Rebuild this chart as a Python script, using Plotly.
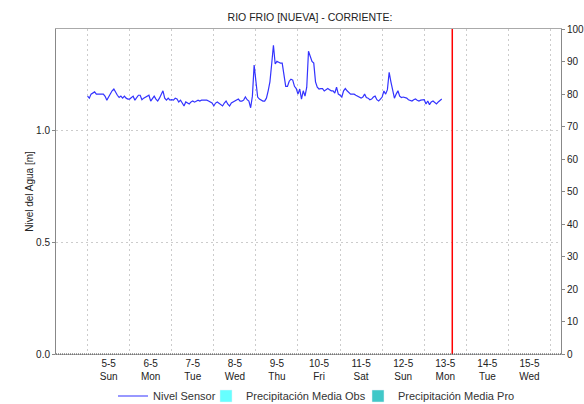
import pandas as pd
import plotly.graph_objects as go

# ---- data ----
start_time = "2024-05-05 00:00"
# hourly water level readings (m)
nivel = [
    1.156, 1.147, 1.165, 1.170, 1.175, 1.165, 1.165, 1.165, 1.165, 1.165, 1.155, 1.138,
    1.152, 1.170, 1.180, 1.188, 1.170, 1.160, 1.150, 1.156, 1.147, 1.156, 1.147, 1.143,
    1.143, 1.152, 1.156, 1.138, 1.147, 1.160, 1.160, 1.140, 1.147, 1.152, 1.156, 1.160,
    1.134, 1.147, 1.156, 1.143, 1.134, 1.147, 1.165, 1.180, 1.147, 1.138, 1.147, 1.138,
    1.140, 1.138, 1.147, 1.143, 1.130, 1.138, 1.125, 1.112, 1.130, 1.125, 1.121, 1.130,
    1.134, 1.129, 1.134, 1.138, 1.134, 1.138, 1.138, 1.138, 1.138, 1.134, 1.130, 1.125,
    1.112, 1.125, 1.130, 1.125, 1.116, 1.112, 1.125, 1.134, 1.120, 1.112, 1.125, 1.130,
    1.134, 1.138, 1.143, 1.134, 1.134, 1.138, 1.152, 1.140, 1.134, 1.104, 1.156, 1.295,
    1.220, 1.152, 1.143, 1.138, 1.134, 1.134, 1.147, 1.180, 1.220, 1.300, 1.384, 1.300,
    1.312, 1.308, 1.304, 1.304, 1.250, 1.200, 1.200, 1.223, 1.232, 1.228, 1.200, 1.190,
    1.165, 1.188, 1.143, 1.180, 1.156, 1.196, 1.357, 1.330, 1.312, 1.304, 1.220, 1.196,
    1.188, 1.190, 1.190, 1.179, 1.185, 1.190, 1.185, 1.180, 1.180, 1.170, 1.196, 1.165,
    1.160, 1.152, 1.180, 1.190, 1.180, 1.170, 1.165, 1.165, 1.165, 1.160, 1.156, 1.150,
    1.147, 1.152, 1.165, 1.150, 1.147, 1.140, 1.143, 1.152, 1.156, 1.140, 1.134, 1.143,
    1.152, 1.179, 1.165, 1.185, 1.263, 1.220, 1.180, 1.147, 1.165, 1.180, 1.156, 1.150,
    1.152, 1.150, 1.147, 1.140, 1.138, 1.134, 1.140, 1.143, 1.138, 1.134, 1.138, 1.140,
    1.140, 1.121, 1.134, 1.118, 1.130, 1.134, 1.125, 1.121, 1.130, 1.138, 1.143,
]
tiempos = pd.date_range(start_time, periods=len(nivel), freq="h")

precip_obs = [0] * 24
precip_pro = [0] * 24
precip_t = pd.date_range("2024-05-13 16:00", periods=24, freq="h")

dias = ["5-5", "6-5", "7-5", "8-5", "9-5", "10-5", "11-5", "12-5", "13-5", "14-5", "15-5"]
dias_sem = ["Sun", "Mon", "Tue", "Wed", "Thu", "Fri", "Sat", "Sun", "Mon", "Tue", "Wed"]
ahora = "2024-05-13 16:00"
x_rango = ["2024-05-04 06:00", "2024-05-16 06:00"]

#---- figure ----
fnt = "Liberation Sans, Arial, sans-serif"
W, H = 584, 404
noon = pd.date_range("2024-05-05 12:00", periods=len(dias), freq="D")
midnights = pd.date_range("2024-05-05 00:00", periods=len(dias) + 1, freq="D")
grid_c = "#cccccc"

fig = go.Figure()
fig.add_trace(go.Scatter(x=tiempos, y=nivel, mode="lines", name="Nivel Sensor",
                         line=dict(color="#3333ff", width=1.2), legend="legend"))
fig.add_trace(go.Bar(x=precip_t, y=precip_obs, name="Precipitación Media Obs",
                     marker_color="#66ffff", yaxis="y2", legend="legend2"))
fig.add_trace(go.Bar(x=precip_t, y=precip_pro, name="Precipitación Media Pro",
                     marker_color="#40c8c8", yaxis="y2", legend="legend3"))

fig.add_shape(type="line", xref="x", yref="paper", x0=ahora, x1=ahora, y0=0, y1=1,
              line=dict(color="#ff0000", width=1.5))
fig.add_shape(type="line", xref="paper", yref="paper", x0=0, x1=1, y0=0, y1=0,
              line=dict(color="#444444", width=1, dash="1px,1px"))

# one legend per entry so the items can sit close together like the original
def leg(px):
    return dict(orientation="h", xref="container", x=px / W, xanchor="left",
                yref="container", y=8 / H, yanchor="middle", bgcolor="rgba(0,0,0,0)",
                font=dict(size=11, color="#333333"), itemwidth=30)

fig.update_layout(
    width=W, height=H,
    margin=dict(l=56, r=23, t=29, b=50, autoexpand=False),
    paper_bgcolor="white", plot_bgcolor="white",
    font=dict(family=fnt, size=10, color="#222222"),
    title=dict(text="RIO FRIO [NUEVA] - CORRIENTE:", x=310 / W, xanchor="center",
               y=1 - 17 / H, yanchor="middle", font=dict(size=10.5, color="#222222")),
    showlegend=True,
    legend=leg(113), legend2=leg(206), legend3=leg(358),
    xaxis=dict(range=x_rango, tickmode="array", tickvals=noon,
               ticktext=[f"{d}<br>{w}" for d, w in zip(dias, dias_sem)],
               showgrid=False, ticks="", showline=True, linecolor="#aaaaaa",
               mirror=True, zeroline=False, automargin=False,
               minor=dict(tickmode="array", tickvals=midnights, showgrid=True,
                          gridcolor=grid_c, griddash="2px,3px", gridwidth=1, ticks="")),
    yaxis=dict(range=[0, 1.457], tickvals=[0, 0.5, 1.0], tickformat=".1f",
               title=dict(text="Nivel del Agua [m]", standoff=0, font=dict(size=10)),
               showgrid=True, gridcolor=grid_c, griddash="2px,3px",
               ticks="outside", ticklen=3, tickcolor="#888888", automargin=False,
               showline=True, linecolor="#888888", zeroline=False),
    yaxis2=dict(range=[0, 100], dtick=10, overlaying="y", side="right",
                showgrid=False, ticks="outside", ticklen=3, tickcolor="#888888",
                automargin=False, showline=True, linecolor="#888888", zeroline=False),
)

# the page has a default body margin; drop it so the figure sits at 0,0
fig.write_html("out.html", config={"displayModeBar": False},
               post_script="document.body.style.margin='0';")
